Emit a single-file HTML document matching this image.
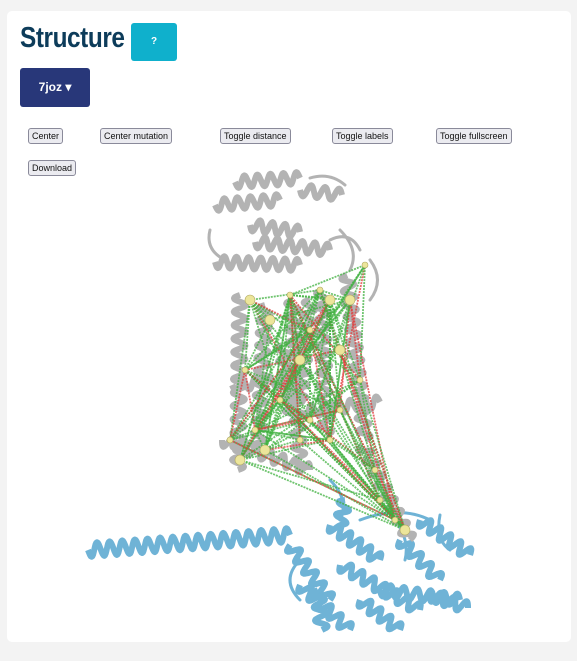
<!DOCTYPE html>
<html><head><meta charset="utf-8"><style>
body{margin:0;background:#f3f3f3;width:577px;height:661px;overflow:hidden;font-family:"Liberation Sans",sans-serif}
.card{position:absolute;left:7px;top:11px;width:564px;height:631px;background:#fff;border-radius:5px}
h1{position:absolute;left:20px;top:22px;margin:0;font-family:"Liberation Sans Narrow","Liberation Sans",sans-serif;font-weight:bold;font-size:29px;color:#0d3c5a;transform:scaleX(0.84);transform-origin:left;letter-spacing:-0.5px}
.q{position:absolute;left:131px;top:23px;width:46px;height:38px;background:#0fb0cc;border-radius:3px;color:#fff;font-size:10px;font-weight:bold;text-align:center;line-height:38px}
.dd{position:absolute;left:20px;top:68px;width:70px;height:39px;background:#283779;border-radius:3px;color:#fff;font-size:12px;font-weight:bold;text-align:center;line-height:39px}
.b{position:absolute;height:14px;border:1px solid #8a8a9a;border-radius:3px;background:#ebebf0;font-size:9px;line-height:14px;padding:0 3px;color:#111}
svg{position:absolute;left:0;top:0}
</style></head><body>
<div class="card"></div>
<h1>Structure</h1>
<div class="q">?</div>
<div class="dd">7joz ▾</div>
<div class="b" style="left:28px;top:128px">Center</div>
<div class="b" style="left:100px;top:128px">Center mutation</div>
<div class="b" style="left:220px;top:128px">Toggle distance</div>
<div class="b" style="left:332px;top:128px">Toggle labels</div>
<div class="b" style="left:436px;top:128px">Toggle fullscreen</div>
<div class="b" style="left:28px;top:160px">Download</div>
<svg id="mol" width="577" height="661"></svg>
<script>
const svg=document.getElementById('mol');const NS='http://www.w3.org/2000/svg';
function el(t,a){const e=document.createElementNS(NS,t);for(const k in a)e.setAttribute(k,a[k]);svg.appendChild(e);return e;}
function helix(x1,y1,x2,y2,amp,col,w){const dx=x2-x1,dy=y2-y1,L=Math.hypot(dx,dy),turns=Math.max(2,Math.round(L/13));let d='';const n=turns*16,nx=-dy/L,ny=dx/L;
for(let i=0;i<=n;i++){const t=i/n,s=Math.sin(t*turns*2*Math.PI)*amp;d+=(i?'L':'M')+(x1+dx*t+nx*s).toFixed(1)+' '+(y1+dy*t+ny*s).toFixed(1);}
const p=el('path',{d:d,fill:'none',stroke:col,'stroke-width':w,'stroke-linejoin':'round'});}
function loop(d,col,w){const p=el('path',{d:d,fill:'none',stroke:col,'stroke-width':w,'stroke-linecap':'round'});}
const blue='#6fb3d6';
helix(88,550,290,535,7,blue,6);
[[290,545,330,600],[330,525,380,560],[340,565,420,610],[300,585,350,630],[380,590,460,600],[400,540,440,580],[360,600,400,630],[420,520,470,555],[318,590,322,630],[430,595,468,608],[345,500,340,525]].forEach(h=>helix(h[0],h[1],h[2],h[3],6,blue,6));
loop('M330 480 Q350 500 340 520 M360 520 Q400 505 430 520 M440 515 Q435 540 450 550 M300 560 Q280 580 300 600 M395 520 Q410 540 405 560',blue,3);
const grey='#b3b3b3';
[[215,205,280,200],[235,182,300,178],[300,190,342,195],[250,225,300,232],[215,262,300,265],[240,295,238,470],[265,305,258,455],[292,300,300,470],[322,290,326,435],[347,275,365,440],[362,445,410,540],[232,385,300,380],[222,440,310,470],[302,412,380,402],[255,242,330,250],[282,345,292,420],[310,300,300,400]].forEach(h=>helix(h[0],h[1],h[2],h[3],6,grey,6));
loop('M210 230 Q205 250 225 260 M340 230 Q360 250 350 270 M370 260 Q385 280 370 300 M330 240 Q350 230 360 250 M345 185 Q330 172 310 178',grey,3);
const pts=[[250,300],[290,295],[245,370],[300,360],[255,430],[330,440],[350,300],[360,380],[395,520],[240,460],[310,330],[280,400],[330,300],[340,410],[375,470],[265,450],[230,440],[300,440],[405,530],[320,290],[365,265],[340,350],[310,420],[380,500],[270,320]];
for(let i=0;i<pts.length;i++)for(let j=i+1;j<pts.length;j+=2){const a=pts[i],b=pts[(j*7)%pts.length];const red=(i+j)%5==0;
const l=el('line',{x1:a[0],y1:a[1],x2:b[0],y2:b[1],stroke:red?'#e23a3a':'#3fb13f','stroke-width':1.8,'stroke-dasharray':'2 1',opacity:0.75});}
pts.forEach((p,i)=>{const c=el('circle',{cx:p[0],cy:p[1],r:i%3?3:5,fill:'#ece59a',stroke:'#b0a860','stroke-width':0.6});});
</script>
</body></html>
